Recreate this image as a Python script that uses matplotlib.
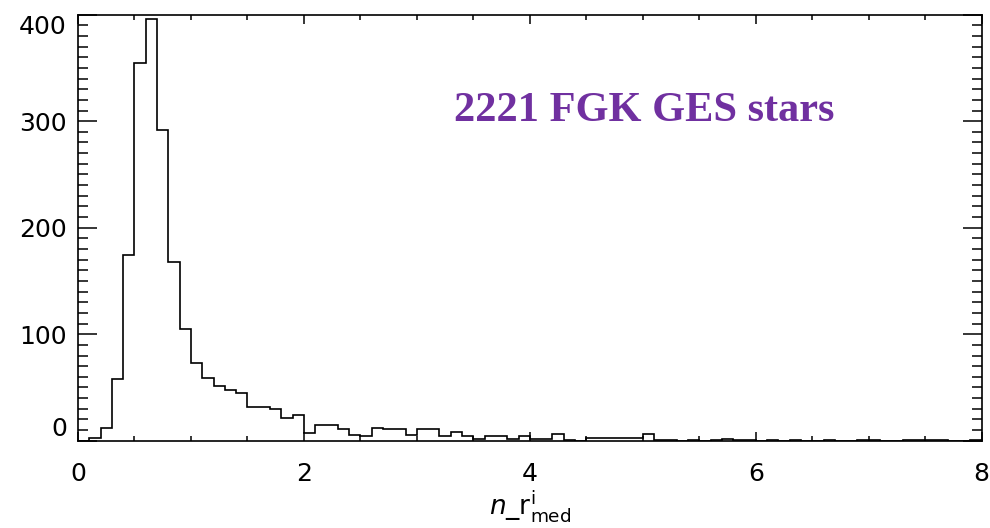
import numpy as np
import matplotlib
matplotlib.use('Agg')
import matplotlib.pyplot as plt
from matplotlib.ticker import MultipleLocator

# histogram of n_r^i_med, bin width 0.1 from 0 to 8
bin_width = 0.1
bin_start = 0.0
counts = [
    0, 3, 12, 58, 174, 355, 396, 292, 168, 105,
    73, 59, 51, 48, 45, 32, 32, 30, 21, 24,
    7, 15, 15, 11, 5, 4, 12, 11, 11, 5,
    11, 11, 4, 8, 4, 2, 4, 4, 2, 4,
    2, 2, 6, 1, 0, 3, 3, 3, 3, 3,
    6, 1, 1, 0, 1, 0, 1, 2, 1, 1,
    0, 1, 0, 1, 0, 0, 1, 0, 0, 1,
    1, 0, 0, 1, 1, 1, 1, 0, 0, 1,
]
label_text = '2221 FGK GES stars'
x_ticks = [0, 2, 4, 6, 8]
y_ticks = [0, 100, 200, 300, 400]

counts = np.array(counts, dtype=float)
edges = bin_start + bin_width * np.arange(len(counts) + 1)

fig = plt.figure(figsize=(9.9, 5.28), dpi=100)
ax = fig.add_axes([0.0788, 0.1653, 0.9128, 0.8069])

ax.stairs(counts, edges, color='black', lw=1.2, baseline=0)

ax.set_xlim(0, 8)
ax.set_ylim(0, 400)
ax.set_xticks(x_ticks)
ax.set_yticks(y_ticks)
ax.xaxis.set_minor_locator(MultipleLocator(0.5))
ax.yaxis.set_minor_locator(MultipleLocator(10))

for sp in ax.spines.values():
    sp.set_linewidth(1.2)

ax.tick_params(axis='both', which='both', direction='in', top=True, right=True,
               width=1.1, labelsize=18, colors='black')
ax.tick_params(axis='x', which='major', length=6.5, pad=15)
ax.tick_params(axis='x', which='minor', length=3.5)
ax.tick_params(axis='y', which='major', length=14, pad=8)
ax.tick_params(axis='y', which='minor', length=7.5)

# end labels on the y axis sit inside the axis range, as in the original
ylabs = ax.get_yticklabels()
ylabs[0].set_va('bottom')
ylabs[-1].set_va('top')

ax.set_xlabel(r'$n\_\mathrm{r}^{\mathrm{i}}_{\mathrm{med}}$', fontsize=19, labelpad=2)

ax.text(0.416, 0.773, label_text, transform=ax.transAxes, color='#7030A0',
        fontsize=30.5, fontweight='bold', family=['Liberation Serif', 'DejaVu Serif'],
        ha='left', va='center')

fig.savefig('out.png', dpi=100)
